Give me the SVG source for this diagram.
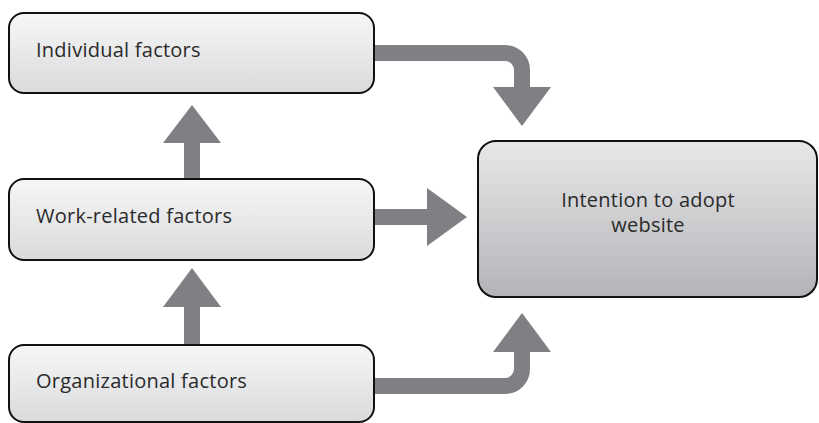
<svg xmlns="http://www.w3.org/2000/svg" width="819" height="423" viewBox="0 0 819 423">
  <defs>
    <linearGradient id="gLight" x1="0" y1="0" x2="0" y2="1">
      <stop offset="0" stop-color="#f7f7f7"/>
      <stop offset="1" stop-color="#d9dadc"/>
    </linearGradient>
    <linearGradient id="gDark" x1="0" y1="0" x2="0" y2="1">
      <stop offset="0" stop-color="#e8e8ea"/>
      <stop offset="1" stop-color="#b3b4b7"/>
    </linearGradient>
  </defs>
  <style>
    .box { stroke: #111; stroke-width: 2; }
    .light { fill: url(#gLight); }
    .dark { fill: url(#gDark); }
    .lbl { font-family: "Open Sans", "DejaVu Sans", sans-serif; font-size: 20px; letter-spacing: 0.25px; fill: #2a2a2a; }
    .shaft { fill: none; stroke: #7f8083; stroke-width: 16; }
    .head { fill: #7f8083; }
  </style>
  <g id="connectors">
    <path class="shaft" d="M373 53 H505 A17 17 0 0 1 522 70 V88"/>
    <polygon class="head" points="493,87 551,87 522,126"/>
    <path class="shaft" d="M373 217 H428"/>
    <polygon class="head" points="427,188 427,246 467,217"/>
    <path class="shaft" d="M373 386 H505 A17 17 0 0 0 522 369 V351"/>
    <polygon class="head" points="493,352 551,352 522,313"/>
    <path class="shaft" d="M192 179 V142"/>
    <polygon class="head" points="163,143 221,143 192,105"/>
    <path class="shaft" d="M192 345 V306"/>
    <polygon class="head" points="163,307 221,307 192,268"/>
  </g>
  <g id="individual">
    <rect class="box light" x="9" y="13" width="365" height="80" rx="15"/>
    <text class="lbl" x="36" y="57">Individual factors</text>
  </g>
  <g id="work">
    <rect class="box light" x="9" y="179" width="365" height="81" rx="15"/>
    <text class="lbl" x="36" y="223">Work-related factors</text>
  </g>
  <g id="organizational">
    <rect class="box light" x="9" y="345" width="365" height="77" rx="15"/>
    <text class="lbl" x="36" y="388">Organizational factors</text>
  </g>
  <g id="intention">
    <rect class="box dark" x="478" y="141" width="339" height="156" rx="18"/>
    <text class="lbl" x="648" y="207" text-anchor="middle">Intention to adopt</text>
    <text class="lbl" x="648" y="232" text-anchor="middle">website</text>
  </g>
</svg>
